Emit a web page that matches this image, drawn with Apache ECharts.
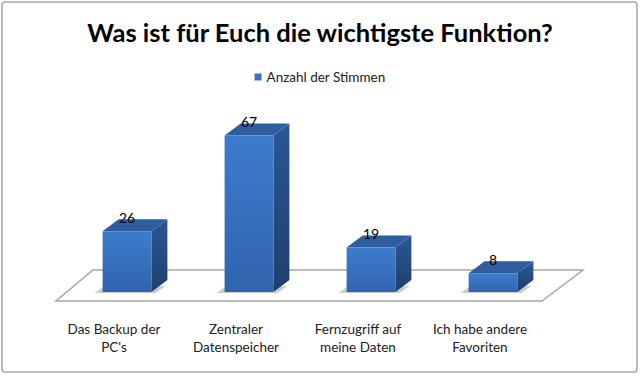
<!DOCTYPE html>
<html>
<head>
<meta charset="utf-8">
<script src="https://cdn.jsdelivr.net/npm/echarts@6/dist/echarts.min.js"></script>
<style>
  html, body { margin: 0; padding: 0; background: #fff; }
  #chart { width: 640px; height: 376px; }
</style>
</head>
<body>
<div id="chart"></div>
<script>
// Daten der Umfrage
const titleText = 'Was ist für Euch die wichtigste Funktion?';
const seriesName = 'Anzahl der Stimmen';
const categories = ['Das Backup der\nPC\'s', 'Zentraler\nDatenspeicher', 'Fernzugriff auf\nmeine Daten', 'Ich habe andere\nFavoriten'];
const votes = [26, 67, 19, 8];

const font = 'Lato, "Open Sans", sans-serif';
const depthX = 16, depthY = -12;

// Boden der 3D-Darstellung
function renderFloor(params, api) {
  const cs = params.coordSys;
  const y0 = api.coord([0, 0])[1];
  const l = cs.x, r = cs.x + cs.width;
  return {
    type: 'polygon',
    shape: { points: [[l - 10, y0 + 9], [r - 12, y0 + 9], [r + 29, y0 - 22], [l + 27, y0 - 22]] },
    style: { fill: '#fff', stroke: '#a6a6a6', lineWidth: 1.5 }
  };
}

// Balken als Quader
function renderBox(params, api) {
  const idx = api.value(0);
  const val = api.value(1);
  const top = api.coord([idx, val]);
  const base = api.coord([idx, 0]);
  const w = api.size([1, 0])[0] * 0.4;
  const x0 = top[0] - w / 2, x1 = top[0] + w / 2;
  const t = top[1], b = base[1];
  return {
    type: 'group',
    children: [
      {
        type: 'polygon',
        shape: { points: [[x0 - 8, b + 1], [x1 + 4, b + 1], [x1 + 14, b - 6], [x0 + 2, b - 6]] },
        style: { fill: 'rgba(0,0,0,0.18)', shadowBlur: 6, shadowColor: 'rgba(0,0,0,0.3)' }
      },
      {
        type: 'polygon',
        shape: { points: [[x1, t], [x1 + depthX, t + depthY], [x1 + depthX, b + depthY], [x1, b]] },
        style: {
          fill: new echarts.graphic.LinearGradient(0, 0, 0, 1, [
            { offset: 0, color: '#2b5795' }, { offset: 1, color: '#1f3f6e' }
          ])
        }
      },
      {
        type: 'polygon',
        shape: { points: [[x0, t], [x0 + depthX, t + depthY], [x1 + depthX, t + depthY], [x1, t]] },
        style: { fill: '#2e5e9f' }
      },
      {
        type: 'rect',
        shape: { x: x0, y: t, width: w, height: b - t },
        style: {
          fill: new echarts.graphic.LinearGradient(0, 0, 0, 1, [
            { offset: 0, color: '#3d7ccc' }, { offset: 1, color: '#3164ae' }
          ])
        }
      },
      {
        type: 'text',
        style: {
          text: String(val), x: top[0], y: t - 14,
          align: 'center', verticalAlign: 'middle',
          font: '14px ' + font, fill: '#000'
        }
      }
    ]
  };
}

const chart = echarts.init(document.getElementById('chart'), null, { renderer: 'svg' });
chart.setOption({
  animation: false,
  title: {
    text: titleText,
    left: 'center',
    top: 12,
    textStyle: { fontFamily: font, fontWeight: 'bold', fontSize: 25.5, lineHeight: 30, color: '#000' }
  },
  legend: {
    data: [seriesName],
    left: 'center',
    top: 65,
    icon: 'rect',
    itemWidth: 7,
    itemHeight: 7,
    itemGap: 4,
    textStyle: { fontFamily: font, fontSize: 13.5, color: '#222' }
  },
  graphic: [{
    type: 'rect',
    shape: { x: 2, y: 2, width: 635, height: 370, r: 3 },
    style: { fill: 'none', stroke: '#a6a6a6', lineWidth: 1.5 },
    z: -10
  }],
  grid: { left: 66, right: 86, top: 128.5, bottom: 84 },
  xAxis: {
    type: 'category',
    data: categories,
    axisLine: { show: false },
    axisTick: { show: false },
    axisLabel: {
      margin: 28,
      interval: 0,
      fontFamily: font,
      fontSize: 13.5,
      lineHeight: 18,
      color: '#222',
      padding: [0, 26, 0, 0]
    }
  },
  yAxis: { type: 'value', min: 0, max: 70, show: false },
  series: [
    {
      type: 'custom',
      name: 'floor',
      renderItem: renderFloor,
      data: [[0, 0]],
      silent: true,
      z: 1
    },
    {
      type: 'custom',
      name: seriesName,
      itemStyle: { color: '#3b71c0' },
      renderItem: renderBox,
      encode: { x: 0, y: 1 },
      data: votes.map((v, i) => [i, v]),
      z: 2
    }
  ]
});
</script>
</body>
</html>
